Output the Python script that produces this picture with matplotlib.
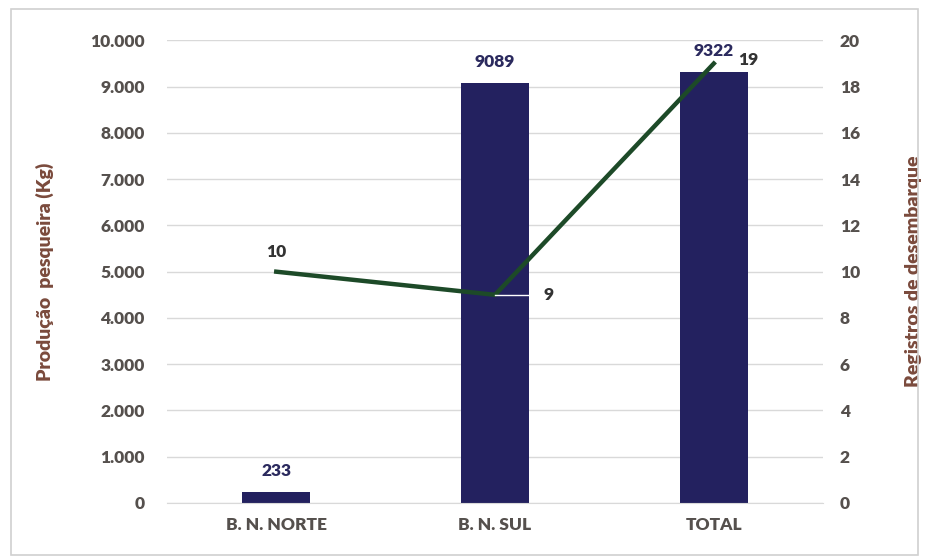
import matplotlib
matplotlib.use("Agg")
import matplotlib.pyplot as plt
from matplotlib.ticker import FuncFormatter, MultipleLocator
from matplotlib.patches import Rectangle

categories = ["B. N. NORTE", "B. N. SUL", "TOTAL"]
producao = [233, 9089, 9322]
registros = [10, 9, 19]

plt.rcParams['font.family'] = ['Lato', 'DejaVu Sans']

fig = plt.figure(figsize=(9.27, 5.58), dpi=100)
fig.patch.set_facecolor("white")
fig.add_artist(Rectangle((0.012, 0.005), 0.978, 0.978, transform=fig.transFigure,
                         fill=False, edgecolor="#d0d0d0", linewidth=1.2))

ax = fig.add_axes([0.180, 0.0986, 0.708, 0.829])
ax2 = ax.twinx()

x = list(range(len(categories)))
ax.bar(x, producao, width=0.31, color="#23215f", zorder=2)
ax.set_xlim(-0.5, 2.5)
ax.set_ylim(0, 10000)
ax.yaxis.set_major_locator(MultipleLocator(1000))
ax.yaxis.set_major_formatter(FuncFormatter(lambda v, p: f"{int(v):,}".replace(",", ".")))
ax.grid(axis="y", color="#d9d9d9", linewidth=1, zorder=0)
ax.set_axisbelow(True)

tick_color = "#55504d"
for a in (ax, ax2):
    for s in a.spines.values():
        s.set_visible(False)
    a.tick_params(length=0, labelsize=12.5, colors=tick_color)
ax.spines['bottom'].set_visible(True)
ax.spines['bottom'].set_color("#d9d9d9")

ax.set_xticks(x)
ax.set_xticklabels(categories, fontweight="heavy", fontsize=12.5)
ax.tick_params(axis="x", pad=10)
for lbl in ax.get_yticklabels():
    lbl.set_fontweight("heavy")
ax.tick_params(axis="y", pad=16)

ax.set_ylabel("Produção  pesqueira (Kg)", fontsize=14, fontweight="heavy", color="#7a4a3c", labelpad=26)

for xi, v in zip(x, producao):
    ax.text(xi, v + 280, str(v), ha="center", va="bottom", fontsize=12.5,
            fontweight="heavy", color="#2b2a5e")

ax2.plot(x, registros, color="#1d4a28", linewidth=3.2, zorder=3)
ax2.set_ylim(0, 20)
ax2.yaxis.set_major_locator(MultipleLocator(2))
for lbl in ax2.get_yticklabels():
    lbl.set_fontweight("heavy")
ax2.tick_params(axis="y", pad=12)
ax2.set_ylabel("Registros de desembarque", fontsize=14, fontweight="heavy", color="#7a4a3c", labelpad=32)

ax2.text(x[0], registros[0] + 0.5, str(registros[0]), ha="center", va="bottom",
         fontsize=12.5, fontweight="heavy", color="#333333")
ax2.plot([x[1], x[1] + 0.18], [registros[1], registros[1]], color="white", linewidth=1, zorder=4)
ax2.text(x[1] + 0.22, registros[1], str(registros[1]), ha="left", va="center",
         fontsize=12.5, fontweight="heavy", color="#333333")
ax2.text(x[2] + 0.11, registros[2] + 0.15, str(registros[2]), ha="left", va="center",
         fontsize=12.5, fontweight="heavy", color="#333333")

fig.savefig("out.png", dpi=100)
